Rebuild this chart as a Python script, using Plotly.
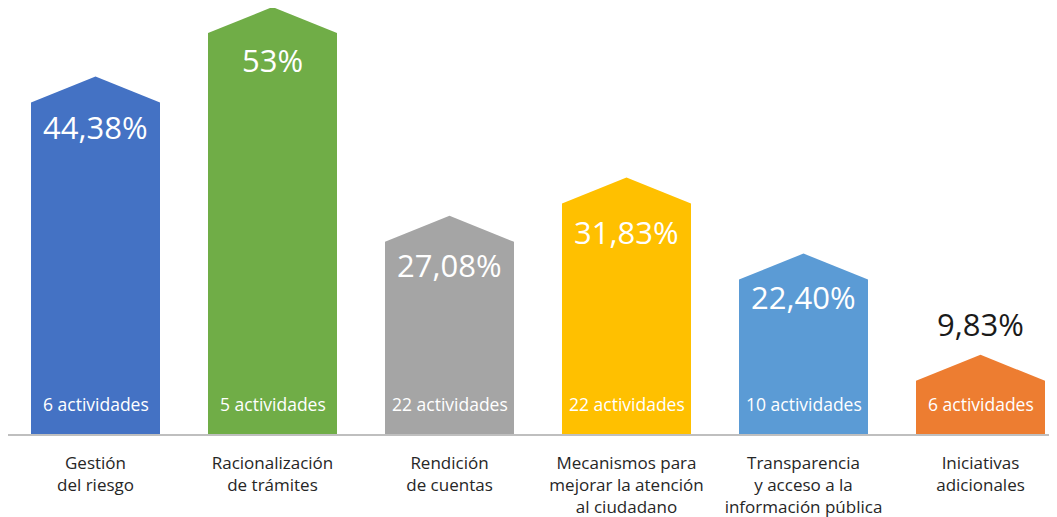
import plotly.graph_objects as go

categories = ["Gestión<br>del riesgo", "Racionalización<br>de trámites", "Rendición<br>de cuentas",
              "Mecanismos para<br>mejorar la atención<br>al ciudadano",
              "Transparencia<br>y acceso a la<br>información pública",
              "Iniciativas<br>adicionales"]
values = [44.38, 53.0, 27.08, 31.83, 22.40, 9.83]
value_labels = ["44,38%", "53%", "27,08%", "31,83%", "22,40%", "9,83%"]
activities = ["6 actividades", "5 actividades", "22 actividades", "22 actividades",
              "10 actividades", "6 actividades"]
colors = ["#4472C4", "#70AD47", "#A5A5A5", "#FFC000", "#5B9BD5", "#ED7D31"]

# style: pixel offset of each value label from the bar's peak
label_dy = [-51, -53, -49, -54, -43, 31]

FONT = "Open Sans"
PAGE_OFF = 8  # default body margin of the page
W, H = 1057 - PAGE_OFF, 517 - PAGE_OFF
ml, mr, mt, mb = 0, 0, 0, 83
plot_w = W - ml - mr
plot_h = H - mt - mb
cat_px = 177.0
first_center = 95.5 - PAGE_OFF
x0 = -first_center / cat_px
x1 = x0 + plot_w / cat_px
px_per_unit = 427.0 / max(values)
ymax = plot_h / px_per_unit
ROOF_PX = 26.0
roof = ROOF_PX / px_per_unit  # roof height in data units
hw = 64.5 / cat_px

fig = go.Figure()
for i, v in enumerate(values):
    xs = [i - hw, i - hw, i, i + hw, i + hw, i - hw]
    ys = [0, v - roof, v, v - roof, 0, 0]
    fig.add_trace(go.Scatter(x=xs, y=ys, mode="lines", fill="toself", fillcolor=colors[i],
                             line=dict(width=0, color=colors[i]), hoverinfo="skip",
                             showlegend=False))
    inside = label_dy[i] < 0
    # anchor at the shoulder of the roof so it always stays inside the axis range
    fig.add_annotation(x=i, y=v - roof, xref="x", yref="y",
                       text=value_labels[i], showarrow=False, yshift=label_dy[i] + ROOF_PX,
                       font=dict(family=FONT, size=31, color="white" if inside else "#1a1a1a"))
    fig.add_annotation(x=i, y=0, xref="x", yref="y", text=activities[i], showarrow=False,
                       yshift=30, font=dict(family=FONT, size=17.5, color="white"))

fig.update_layout(
    width=W, height=H, margin=dict(l=ml, r=mr, t=mt, b=mb, autoexpand=False),
    plot_bgcolor="white", paper_bgcolor="white",
    xaxis=dict(range=[x0, x1], tickmode="array", tickvals=list(range(len(categories))),
               ticktext=categories, showgrid=False, zeroline=False, showline=True,
               linecolor="#BFBFBF", linewidth=1.5, ticks="", ticklabelstandoff=13,
               automargin=False,
               tickfont=dict(family=FONT, size=17, color="#262626")),
    yaxis=dict(range=[0, ymax], visible=False, showgrid=False, zeroline=False),
)
fig.write_html("out.html")
